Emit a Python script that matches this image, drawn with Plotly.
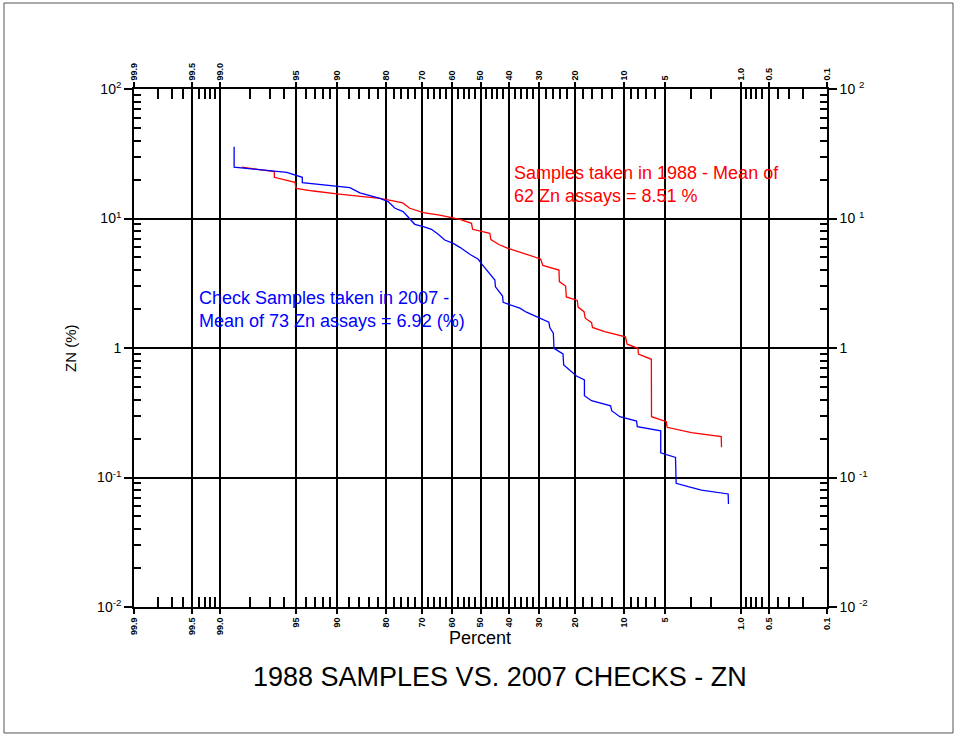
import plotly.graph_objects as go
from statistics import NormalDist

# ---------------- data ----------------
# cumulative percent (probability scale) and ZN (%) for the 2007 check samples (blue)
blue_pct = [98.6, 98.6, 95.8, 95.0, 94.4, 94.4, 87.8, 85.9, 81.5, 79.5,
            77.7, 75.5, 74.0, 72.1, 69.5, 66.9, 64.7, 62.5, 59.6, 57.3,
            53.8, 50.8, 49.3, 44.9, 44.7, 42.2, 42.0, 39.1, 36.3, 34.1,
            29.9, 27.1, 26.8, 25.8, 25.6, 23.1, 22.9, 20.4, 19.6, 17.7,
            17.7, 16.1, 13.4, 12.3, 12.1, 10.7, 8.2, 8.1, 5.4, 5.4,
            4.1, 4.05, 3.2, 2.44, 1.36, 1.35]
blue_zn = [35.8, 24.9, 22.7, 21.7, 20.8, 18.9, 17.3, 15.8, 14.3, 13.5,
           12.0, 11.3, 10.2, 9.02, 8.64, 8.25, 7.55, 6.82, 6.43, 5.99,
           5.29, 4.84, 4.38, 3.35, 2.97, 2.52, 2.25, 2.15, 2.03, 1.89,
           1.71, 1.58, 1.43, 1.30, 0.995, 0.899, 0.739, 0.638, 0.608, 0.566,
           0.428, 0.392, 0.369, 0.358, 0.328, 0.295, 0.273, 0.247, 0.229, 0.155,
           0.143, 0.0902, 0.0849, 0.080, 0.0746, 0.0624]

# 1988 samples (red)
red_pct = [98.34, 96.7, 96.7, 95.1, 95.0, 93.2, 90.0, 85.9, 81.5, 78.2,
           75.6, 73.6, 69.5, 64.2, 57.3, 53.2, 52.8, 46.7, 46.3, 43.5,
           40.3, 29.6, 28.9, 24.2, 24.1, 22.4, 22.2, 19.4, 19.2, 17.8,
           17.5, 16.1, 15.9, 13.4, 9.81, 9.55, 8.02, 7.95, 6.38, 6.36,
           4.87, 4.80, 3.90, 3.00, 1.59, 1.58]
red_zn = [24.9, 23.0, 20.8, 19.0, 17.1, 16.3, 15.5, 14.9, 14.3, 13.7,
          13.2, 12.0, 11.1, 10.6, 9.86, 9.18, 8.25, 7.69, 6.88, 6.30,
          5.89, 4.87, 4.34, 4.00, 3.26, 3.01, 2.48, 2.33, 2.07, 1.91,
          1.70, 1.57, 1.44, 1.34, 1.22, 1.07, 0.995, 0.899, 0.818, 0.295,
          0.270, 0.244, 0.233, 0.222, 0.207, 0.171]

# probability axis ticks
major_pct = [99.9, 99.5, 99.0, 95, 90, 80, 70, 60, 50, 40, 30, 20, 10, 5, 1.0, 0.5, 0.1]
major_lbl = ["99.9", "99.5", "99.0", "95", "90", "80", "70", "60", "50", "40",
             "30", "20", "10", "5", "1.0", "0.5", "0.1"]
minor_pct = [99.8, 99.7, 99.6, 99.4, 99.3, 99.2, 99.1, 98, 97, 96, 94, 93, 92, 91,
             88, 86, 84, 82, 78, 76, 74, 72, 68, 66, 64, 62, 58, 56, 54, 52,
             48, 46, 44, 42, 38, 36, 34, 32, 28, 26, 24, 22, 18, 16, 14, 12,
             9, 8, 7, 6, 3, 2, 0.9, 0.8, 0.7, 0.6, 0.4, 0.3, 0.2]

# log axis ticks
y_major = [0.01, 0.1, 1, 10, 100]
y_lbl_left = ["10<sup>-2</sup>", "10<sup>-1</sup>", "1", "10<sup>1</sup>", "10<sup>2</sup>"]
y_lbl_right = ["10 <sup>-2</sup>", "10 <sup>-1</sup>", "1", "10 <sup>1</sup>", "10 <sup>2</sup>"]
y_minor = [m * 10 ** e for e in (-2, -1, 0, 1) for m in range(2, 10)]

# ---------------- helpers ----------------
ND = NormalDist()


def zpos(p):
    return ND.inv_cdf(1 - p / 100.0)


FONT = "Arial, 'Liberation Sans', sans-serif"
xr = [zpos(99.9), zpos(0.1)]

fig = go.Figure()
fig.add_trace(go.Scatter(x=[zpos(p) for p in red_pct], y=red_zn, mode="lines",
                         line=dict(color="#ff0000", width=1.3), showlegend=False))
fig.add_trace(go.Scatter(x=[zpos(p) for p in blue_pct], y=blue_zn, mode="lines",
                         line=dict(color="#0000ff", width=1.3), showlegend=False))
# invisible trace to activate the top/right axes
fig.add_trace(go.Scatter(x=[0], y=[1], mode="markers", marker=dict(opacity=0),
                         xaxis="x2", yaxis="y2", showlegend=False, hoverinfo="skip"))

xt = [zpos(p) for p in major_pct]
xm = [zpos(p) for p in minor_pct]

xcommon = dict(range=xr, tickmode="array", tickvals=xt, ticktext=major_lbl,
               tickangle=-90, showline=True, linecolor="black", linewidth=1.6,
               ticks="outside", ticklen=5, tickwidth=1.6, tickcolor="black",
               zeroline=False,
               tickfont=dict(family=FONT, size=9, color="black", weight="bold"),
               minor=dict(tickvals=xm, ticks="inside", ticklen=10, tickwidth=1.6,
                          tickcolor="black", showgrid=False))
ycommon = dict(type="log", range=[-2, 2], tickmode="array", tickvals=y_major,
               showline=True, linecolor="black", linewidth=1.6,
               ticks="outside", ticklen=8, tickwidth=1.6, tickcolor="black",
               zeroline=False,
               tickfont=dict(family=FONT, size=14, color="black"),
               minor=dict(tickvals=y_minor, ticks="inside", ticklen=7, tickwidth=1.6,
                          tickcolor="black", showgrid=False))

fig.update_layout(
    width=958, height=738,
    margin=dict(l=134, r=131, t=89, b=131),
    paper_bgcolor="white", plot_bgcolor="white",
    font=dict(family=FONT, color="black"),
    xaxis=dict(**xcommon, side="bottom", showgrid=True, gridcolor="black", gridwidth=1.8),
    xaxis2=dict(**xcommon, side="top", overlaying="x", showgrid=False),
    yaxis=dict(**ycommon, side="left", ticktext=y_lbl_left, showgrid=True,
               gridcolor="black", gridwidth=1.8),
    yaxis2=dict(**ycommon, side="right", overlaying="y", ticktext=y_lbl_right,
                showgrid=False),
)

# outer frame
fig.add_shape(type="rect", xref="paper", yref="paper",
              x0=-0.1876, x1=1.1818, y0=-0.2432, y1=1.166,
              line=dict(color="#555555", width=1))

fig.add_annotation(text="Percent", xref="paper", yref="paper", x=0.4993, y=-0.0598,
                   showarrow=False, font=dict(family=FONT, size=18, color="black"),
                   xanchor="center", yanchor="middle")
fig.add_annotation(text="ZN (%)", xref="paper", yref="paper", x=-0.0924, y=0.5,
                   showarrow=False, textangle=-90,
                   font=dict(family=FONT, size=15, color="black"),
                   xanchor="center", yanchor="middle")
fig.add_annotation(text="1988 SAMPLES VS. 2007 CHECKS - ZN", xref="paper", yref="paper",
                   x=0.528, y=-0.135, showarrow=False,
                   font=dict(family=FONT, size=27, color="black"),
                   xanchor="center", yanchor="middle")
fig.add_annotation(text="Samples taken in 1988 - Mean of<br>62 Zn assays = 8.51 %",
                   xref="paper", yref="paper", x=0.5455, y=0.8147, showarrow=False,
                   align="left", xanchor="left", yanchor="middle",
                   font=dict(family=FONT, size=18, color="#ff0000"))
fig.add_annotation(text="Check Samples taken in 2007 -<br>Mean of 73 Zn assays = 6.92 (%)",
                   xref="paper", yref="paper", x=0.0909, y=0.5734, showarrow=False,
                   align="left", xanchor="left", yanchor="middle",
                   font=dict(family=FONT, size=18, color="#0000ff"))

fig.write_html("out.html")
